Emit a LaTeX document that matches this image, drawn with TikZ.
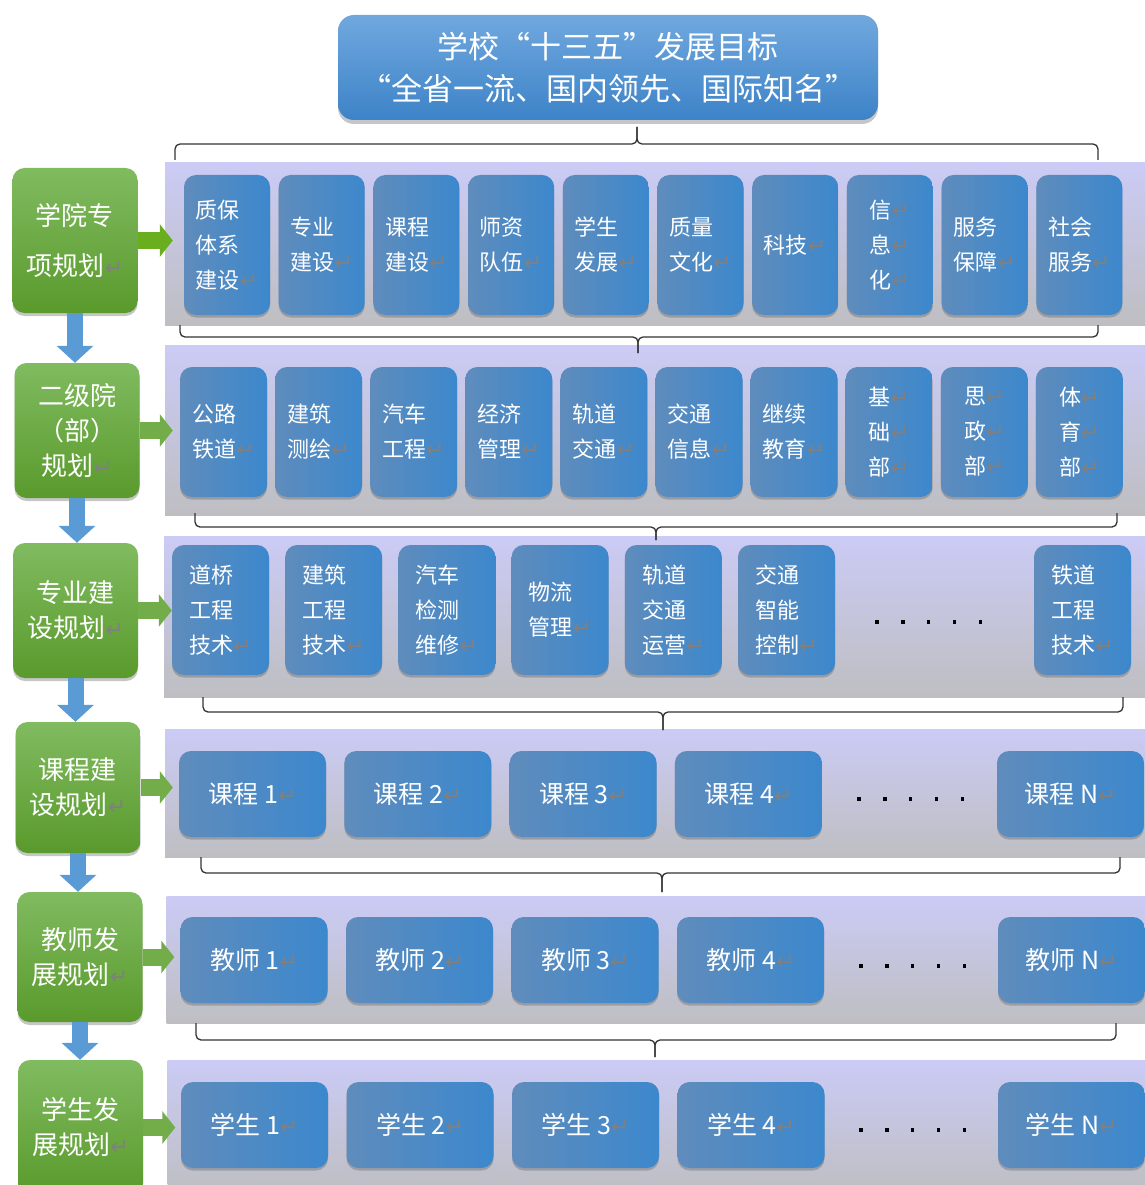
\documentclass[tikz,border=0pt]{standalone}
\usepackage{fontspec}
\setmainfont{Noto Sans CJK SC}
\newfontfamily\markfont{DejaVu Sans}
\usetikzlibrary{positioning,shadows,arrows.meta}
\definecolor{goaltop}{HTML}{70A8DE}
\definecolor{goalbot}{HTML}{3D83C8}
\definecolor{plantop}{HTML}{80BB60}
\definecolor{planbot}{HTML}{5A9A2C}
\definecolor{itemleft}{HTML}{5F8CBC}
\definecolor{itemright}{HTML}{3C88CD}
\definecolor{bandtop}{HTML}{CBCBF6}
\definecolor{bandbot}{HTML}{BEBEC2}
\definecolor{downblue}{HTML}{5B9BD5}
\definecolor{feedgreen}{HTML}{72AD4A}
\definecolor{feedlime}{HTML}{69AE1E}
\definecolor{markgray}{HTML}{808080}
\newcommand\retmark{{\markfont\fontsize{22}{22}\selectfont\color{markgray}↵}}
\tikzset{
  goal/.style={rounded corners=16pt, top color=goaltop, bottom color=goalbot, text=white,
    minimum width=540pt, minimum height=105pt, align=center, font=\fontsize{31}{42}\selectfont,
    drop shadow={shadow xshift=0pt, shadow yshift=-4pt, opacity=.45}},
  plan/.style={rounded corners=12pt, top color=plantop, bottom color=planbot, text=white,
    minimum width=125pt, align=center, inner sep=0pt, font=\fontsize{26}{35}\selectfont,
    drop shadow={shadow xshift=0pt, shadow yshift=-3pt, opacity=.45}},
  band/.style={top color=bandtop, bottom color=bandbot, minimum width=985pt, inner sep=0pt},
  item/.style={rounded corners=12pt, left color=itemleft, right color=itemright, text=white,
    align=left, inner sep=0pt, font=\fontsize{22}{35}\selectfont,
    drop shadow={shadow xshift=0pt, shadow yshift=-2.5pt, opacity=.55}},
  wide/.style={item, minimum width=147pt, minimum height=86pt, font=\fontsize{25}{30}\selectfont},
  down/.style={-{Triangle[width=36pt,length=17pt]}, line width=16pt, downblue},
  feed/.style={-{Triangle[width=32pt,length=13pt]}, line width=17pt, feedgreen, shorten >=-8pt},
  bracket/.style={rounded corners=5pt, line width=1.3pt, black!80}
}
\begin{document}
\begin{tikzpicture}[x=1pt, y=-1pt]
\useasboundingbox (0,0) rectangle (1144,1185);
% bands behind each row
\node[band, minimum height=162pt] (band1) at (657.5,244) {};
\node[band, minimum height=170pt] (band2) at (657.5,430) {};
\node[band, minimum height=161pt] (band3) at (656.5,616.5) {};
\node[band, minimum height=128pt] (band4) at (657.5,793) {};
\node[band, minimum height=127pt] (band5) at (659,959.5) {};
\node[band, minimum height=135pt] (band6) at (660,1127.5) {};
% brackets
\foreach \l/\r/\ye/\yh/\t/\yt in {175/1098/160/144/637/127, 180/1098/325/337/638/353,
  195/1117/513/527/656/540, 203/1123/697/712/663/730, 201/1120/857/873/662/892,
  196/1116/1023/1040/655/1057}
{
  \draw[bracket] (\l,\ye) -- (\l,\yh) -- (\t,\yh) -- (\t,\yt);
  \draw[bracket] (\r,\ye) -- (\r,\yh) -- (\t,\yh) -- (\t,\yt);
}
% row 1
\foreach \t [count=\i] in {{质保\\体系\\建设\retmark},{专业\\建设\retmark},{课程\\建设\retmark},
  {师资\\队伍\retmark},{学生\\发展\retmark},{质量\\文化\retmark},{科技\retmark},
  {信\retmark\\息\retmark\\化\retmark},{服务\\保障\retmark},{社会\\服务\retmark}}
  \node[item, minimum width=86pt, minimum height=140pt] (a\i) at ({227+94.7*(\i-1)},245) {\t};
% row 2
\foreach \t [count=\i] in {{公路\\铁道\retmark},{建筑\\测绘\retmark},{汽车\\工程\retmark},
  {经济\\管理\retmark},{轨道\\交通\retmark},{交通\\信息\retmark},{继续\\教育\retmark},
  {基\retmark\\础\retmark\\部\retmark},{思\retmark\\政\retmark\\部\retmark},
  {体\retmark\\育\retmark\\部\retmark}}
  \node[item, minimum width=87pt, minimum height=130pt] (b\i) at ({223.5+95.1*(\i-1)},432) {\t};
% row 3
\foreach \t [count=\i] in {{道桥\\工程\\技术\retmark},{建筑\\工程\\技术\retmark},
  {汽车\\检测\\维修\retmark},{物流\\管理\retmark},{轨道\\交通\\运营\retmark},
  {交通\\智能\\控制\retmark}}
  \node[item, minimum width=97pt, minimum height=130pt] (c\i) at ({220.5+113.2*(\i-1)},610) {\t};
\node[item, minimum width=97pt, minimum height=130pt] (c7) at (1082.5,610) {铁道\\工程\\技术\retmark};
% rows 4-6
\foreach \i in {1,...,4}
{
  \node[wide] (d\i) at ({252.5+165.3*(\i-1)},794) {课程 \i\retmark};
  \node[wide] (e\i) at ({254+165.5*(\i-1)},960) {教师 \i\retmark};
  \node[wide] (f\i) at ({254.5+165.5*(\i-1)},1125) {学生 \i\retmark};
}
\node[wide] (d5) at (1070.5,794) {课程 N\retmark};
\node[wide] (e5) at (1071.5,960) {教师 N\retmark};
\node[wide] (f5) at (1071.5,1125) {学生 N\retmark};
% dots
\foreach \x/\y in {877/622, 859/799, 861/966, 861/1130}
  \foreach \k in {0,...,4}
    \fill ({\x+25.8*\k-1.7},{\y-1.7}) rectangle +(3.4,3.4);
% planning steps
\node[plan, minimum height=145pt] (p1) at (75,240.5) {学院专\\[15pt]项规划\retmark};
\node[plan, minimum height=135pt] (p2) at (77,430.5) {二级院\\（部）\\规划\retmark};
\node[plan, minimum height=135pt] (p3) at (75.5,610.5) {专业建\\设规划\retmark};
\node[plan, minimum height=131pt] (p4) at (78,787.5) {课程建\\设规划\retmark};
\node[plan, minimum height=130pt] (p5) at (80,957) {教师发\\展规划\retmark};
\node[plan, minimum height=135pt] (p6) at (80.5,1127.5) {学生发\\展规划\retmark};
\foreach \i [count=\j from 2] in {1,...,5}
  \draw[down] (p\i.south) -- (p\i.south |- p\j.north);
\draw[feed, feedlime] (p1.east) -- (p1.east -| band1.west);
\foreach \i in {2,...,6}
  \draw[feed] (p\i.east) -- (p\i.east -| band\i.west);
% goal
\node[goal] (goal) at (608,67.5) {学校“十三五”发展目标\\“全省一流、国内领先、国际知名”};
\end{tikzpicture}
\end{document}
